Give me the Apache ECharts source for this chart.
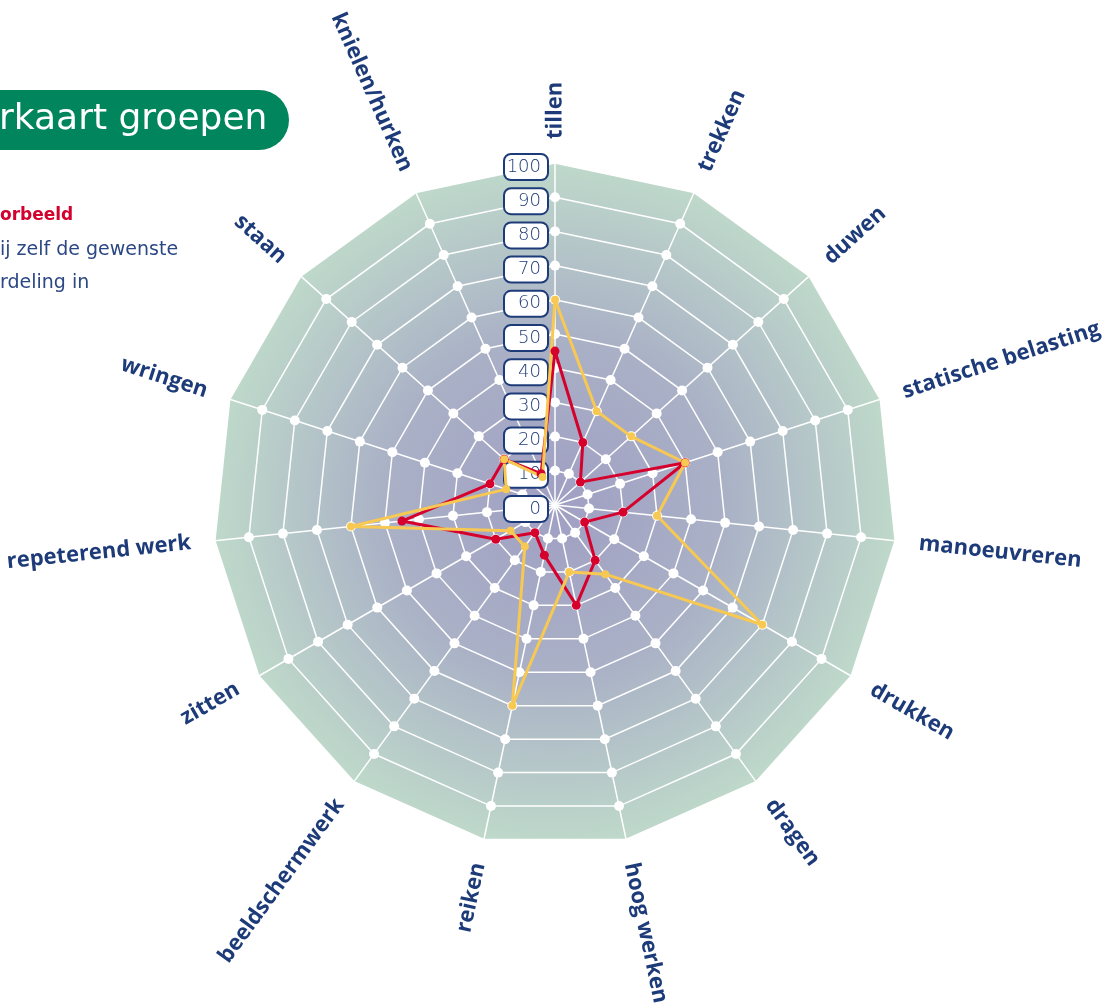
<!DOCTYPE html>
<html>
<head>
<meta charset="utf-8">
<script src="https://cdn.jsdelivr.net/npm/echarts@6/dist/echarts.min.js"></script>
<style>
html,body{margin:0;padding:0;background:#ffffff;}
#chart{width:1105px;height:1005px;}
</style>
</head>
<body>
<div id="chart"></div>
<script>
// ---- data (clockwise from the top) ----
const categories = ['tillen', 'trekken', 'duwen', 'statische belasting', 'manoeuvreren', 'drukken', 'dragen', 'hoog werken', 'reiken', 'beeldschermwerk', 'zitten', 'repeterend werk', 'wringen', 'staan', 'knielen/hurken'];
const redValues    = [45, 20, 10, 40, 20, 10, 20, 30, 15, 10, 20, 45, 20, 20, 10];
const yellowValues = [60, 30, 30, 40, 30, 70, 25, 20, 60, 15, 15, 60, 15, 20, 9];
const ringValues   = [10, 20, 30, 40, 50, 60, 70, 80, 90];
const tickLabels   = ['0', '10', '20', '30', '40', '50', '60', '70', '80', '90', '100'];
const maxValue = 100;

const NAVY = '#1d3b78';
const n = categories.length;
const CX = 555, CY = 505, R = 342;
// ECharts radar lays indicators out counter-clockwise; reorder so they read clockwise
function ccw(arr) { return arr.map(function (_, i) { return arr[i === 0 ? 0 : n - i]; }); }

const radarIndicators = ccw(categories).map(function (name) {
  return { name: name, min: 0, max: maxValue };
});

const series = [];
// background fill
series.push({
  type: 'radar', z: 1, silent: true, symbol: 'none',
  lineStyle: { width: 0, opacity: 0 },
  areaStyle: {
    opacity: 1,
    color: {
      type: 'radial', x: 0.5, y: 0.505, r: 0.5,
      colorStops: [
        { offset: 0, color: '#a09fc3' },
        { offset: 0.5, color: '#aab1c6' },
        { offset: 1, color: '#bed8ca' }
      ]
    }
  },
  data: [{ value: categories.map(function () { return maxValue; }) }]
});
// white grid dots on every ring
ringValues.forEach(function (v) {
  series.push({
    type: 'radar', z: 3, silent: true,
    symbol: 'circle', symbolSize: 10,
    itemStyle: { color: '#ffffff' },
    lineStyle: { width: 0, opacity: 0 },
    data: [{ value: categories.map(function () { return v; }) }]
  });
});
// data series
series.push({
  type: 'radar', z: 4, silent: true,
  symbol: 'circle', symbolSize: 9,
  itemStyle: { color: '#d6002d' },
  lineStyle: { color: '#d6002d', width: 3 },
  data: [{ value: ccw(redValues) }]
});
series.push({
  type: 'radar', z: 4, silent: true,
  symbol: 'circle', symbolSize: 8,
  itemStyle: { color: '#f8c952' },
  lineStyle: { color: '#f8c952', width: 3 },
  data: [{ value: ccw(yellowValues) }]
});
// invisible pie to place the radially rotated axis names
series.push({
  type: 'pie', z: 5, silent: true,
  center: [CX, CY], radius: [0, R],
  startAngle: 90 + 180 / n - 0.05, clockwise: true,
  avoidLabelOverlap: false,
  itemStyle: { color: 'rgba(0,0,0,0)' },
  emphasis: { disabled: true },
  label: {
    show: true, position: 'outside', rotate: 'radial',
    color: NAVY, fontSize: 22, fontWeight: 'bold', fontFamily: 'Open Sans',
    padding: [0, 0, 12, 0],
    distanceToLabelLine: 0
  },
  labelLine: { show: false, length: 24, length2: 0 },
  data: categories.map(function (name) { return { name: name, value: 1 }; })
});

const option = {
  backgroundColor: '#ffffff',
  animation: false,
  radar: {
    z: 2,
    center: [CX, CY],
    radius: R,
    startAngle: 90,
    shape: 'polygon',
    splitNumber: 10,
    axisName: { show: false },
    axisLine: { show: true, lineStyle: { color: '#ffffff', width: 1.5 } },
    axisTick: { show: false },
    axisLabel: { show: false },
    splitLine: { lineStyle: { color: '#ffffff', width: 1.5 } },
    splitArea: { show: false },
    indicator: radarIndicators
  },
  // value axis along the "tillen" spoke carrying the boxed tick labels
  grid: { left: CX, top: CY - R + 4, width: 1, height: R },
  xAxis: { type: 'value', show: false, min: 0, max: 1 },
  yAxis: {
    type: 'value', min: 0, max: maxValue, interval: 10, z: 3.5,
    axisLine: { show: false }, axisTick: { show: false }, splitLine: { show: false },
    axisLabel: {
      formatter: function (v) { const idx = Math.round(v / 10); return tickLabels[idx] != null ? tickLabels[idx] : ''; },
      color: NAVY,
      fontSize: 18,
      fontFamily: 'DejaVu Sans',
      fontWeight: 'lighter',
      backgroundColor: '#ffffff',
      borderColor: NAVY,
      borderWidth: 2,
      borderRadius: 6,
      padding: [3, 6, 2, 6],
      lineHeight: 19,
      width: 30,
      align: 'right',
      margin: 8
    }
  },
  graphic: [
    { type: 'rect', shape: { x: -40, y: 90, width: 329, height: 60, r: 30 }, style: { fill: '#00855d' } },
    { type: 'text', x: -1, y: 120, style: { text: 'rkaart groepen', fill: '#ffffff', fontSize: 36, fontFamily: 'DejaVu Sans', verticalAlign: 'middle' } },
    { type: 'text', x: 0, y: 216, style: { text: 'orbeeld', fill: '#d4002e', fontSize: 17, fontWeight: 'bold', fontFamily: 'DejaVu Sans', verticalAlign: 'middle' } },
    { type: 'text', x: 0, y: 250, style: { text: 'ij zelf de gewenste', fill: '#2b4784', fontSize: 19, fontFamily: 'DejaVu Sans', verticalAlign: 'middle' } },
    { type: 'text', x: 0, y: 283, style: { text: 'rdeling in', fill: '#2b4784', fontSize: 19, fontFamily: 'DejaVu Sans', verticalAlign: 'middle' } }
  ],
  series: series
};

const chart = echarts.init(document.getElementById('chart'), null, { renderer: 'canvas' });
chart.setOption(option);
</script>
</body>
</html>
